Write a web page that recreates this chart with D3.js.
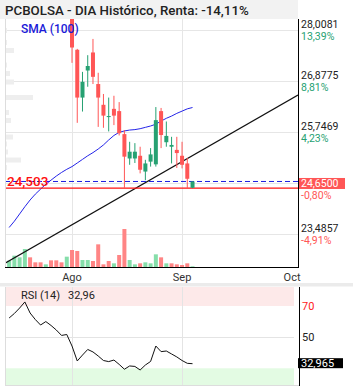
<!DOCTYPE html>
<html>
<head>
<meta charset="utf-8">
<script src="https://cdn.jsdelivr.net/npm/d3@7"></script>
<style>
  body { margin: 0; background: #fff; }
  svg { display: block; font-family: Roboto, "Noto Sans", sans-serif; }
</style>
</head>
<body>
<div id="chart"></div>
<script>
// index 0 = first session of August, negatives = last sessions of July
const dayIndex = d3.range(-12, 24);
const candleIndex = d3.range(0, 24);

const opens  = [28.45, 27.57, 26.51, 27.11, 27.51, 26.81, 26.35, 26.08, 26.26, 26.21, 25.70, 25.16,
                25.16, 25.22, 24.87, 25.09, 25.03, 26.21, 25.52, 25.42, 25.35, 25.22, 25.05, 24.51];
const highs  = [28.60, 27.59, 27.08, 27.45, 27.81, 27.06, 26.59, 26.51, 26.55, 26.41, 25.79, 25.53,
                25.50, 25.42, 25.13, 25.39, 26.30, 26.28, 25.98, 25.64, 25.64, 25.53, 25.17, 24.65];
const lows   = [27.28, 25.95, 26.20, 26.75, 26.81, 25.86, 25.84, 25.76, 25.90, 25.67, 24.503, 25.02,
                25.06, 24.83, 24.68, 24.98, 24.98, 25.39, 25.42, 25.05, 24.95, 24.94, 24.503, 24.503];
const closes = [27.62, 26.51, 26.86, 27.21, 26.97, 26.51, 26.11, 26.10, 26.11, 25.72, 25.20, 25.31,
                25.31, 24.91, 25.05, 25.25, 26.01, 25.68, 25.66, 25.46, 25.28, 25.02, 24.71, 24.65];

// volume (miles) and direction for every session in dayIndex
const volumes = [19, 34, 29, 54, 29, 14, 14, 8, 20, 20, 14, 31,
                 51, 48, 21, 21, 18, 68, 8, 18, 11, 36, 114, 21,
                 8, 11, 14, 11, 38, 29, 11, 11, 8, 6, 11, 2];
const volUp = ["u","u","u","u","d","d","d","u","d","d","d","u",
               "d","d","u","u","d","d","d","d","u","d","d","u",
               "u","d","u","u","u","d","u","d","d","d","d","u"];

const sma100 = [23.63, 23.77, 23.93, 24.09, 24.24, 24.37, 24.48, 24.59, 24.68, 24.77, 24.85, 24.92,
                24.98, 25.06, 25.14, 25.22, 25.29, 25.37, 25.46, 25.57, 25.67, 25.74, 25.77, 25.79,
                25.80, 25.82, 25.85, 25.88, 25.92, 25.99, 26.05, 26.10, 26.16, 26.21, 26.26, 26.29];

const rsi14 = [62.3, 65.2, 68.7, 72.6, 65.5, 61.3, 57.8, 60.0, 57.5, 54.6, 51.1, 51.7,
               44.3, 34.7, 38.5, 42.1, 40.5, 37.9, 35.0, 34.3, 35.3, 32.5, 29.4, 31.5,
               31.2, 28.9, 32.1, 34.4, 44.3, 40.7, 41.1, 39.2, 37.3, 35.0, 33.2, 32.96];

// support trend line, two anchors (index, price)
const trendLine = [[-12.79, 22.836], [43.13, 26.567]];

// faint volume-at-price profile on the left
const profilePrices = [27.997, 27.731, 27.554, 27.232, 27.044, 26.855, 26.512, 26.179, 26.002, 25.636, 25.481, 25.304, 25.126, 24.960];
const profileVols   = [2, 2, 9, 2, 5, 9, 28, 4, 6, 8, 2, 3, 16, 2];

const priceTicks = [28.0081, 26.8775, 25.7469, 24.6163, 23.4857];
const pctLabels  = ["13,39%", "8,81%", "4,23%", "", "-4,91%"];
const monthTicks = [0, 21, 42];
const monthLabels = ["Ago", "Sep", "Oct"];

const lastPrice = 24.65;
const lastPct = "-0,80%";
const supportLevel = 24.503;
const lastRsi = 32.965;

const RED = "#ff5656", GREEN = "#26a172";
const fmt4 = v => d3.format(".4f")(v).replace(".", ",");

const svg = d3.select("#chart").append("svg")
    .attr("width", 353)
    .attr("height", 390);

const x = d3.scaleLinear().domain([-12.79, 43.13]).range([5, 298]);
const y = d3.scaleLinear().domain([23.4857, 28.0081]).range([234, 30]);
const yVol = d3.scaleLinear().domain([0, 120]).range([267, 227]);
const yRsi = d3.scaleLinear().domain([30, 70]).range([368.3, 306]);
const xProf = d3.scaleLinear().domain([0, 28]).range([5, 33]);

svg.append("defs").append("clipPath").attr("id", "clipMain")
    .append("rect").attr("x", 5).attr("y", 19).attr("width", 293).attr("height", 248);
svg.select("defs").append("clipPath").attr("id", "clipRsi")
    .append("rect").attr("x", 5).attr("y", 287).attr("width", 294).attr("height", 98);

// title bar
svg.append("rect").attr("x", 0).attr("y", 0).attr("width", 298).attr("height", 19).attr("fill", "#f2f2f2");

const main = svg.append("g").attr("clip-path", "url(#clipMain)");

// grid
main.selectAll(".hgrid").data(priceTicks).enter().append("line")
    .attr("x1", 5).attr("x2", 298)
    .attr("y1", d => Math.round(y(d)) + 0.5).attr("y2", d => Math.round(y(d)) + 0.5)
    .attr("stroke", "#e6e6e6");
main.selectAll(".vgrid").data(monthTicks.slice(0, 2)).enter().append("line")
    .attr("x1", d => Math.round(x(d)) + 0.5).attr("x2", d => Math.round(x(d)) + 0.5)
    .attr("y1", 19).attr("y2", 267)
    .attr("stroke", "#e6e6e6");

// volume profile
main.selectAll(".prof").data(profilePrices).enter().append("rect")
    .attr("x", 5)
    .attr("y", d => y(d) - 2.5)
    .attr("width", (d, i) => xProf(profileVols[i]) - 5)
    .attr("height", 5)
    .attr("fill", "#eeeeee");

// volume bars
main.selectAll(".vol").data(dayIndex).enter().append("rect")
    .attr("x", d => x(d) - 2)
    .attr("y", (d, i) => yVol(volumes[i]))
    .attr("width", 4)
    .attr("height", (d, i) => 267 - yVol(volumes[i]))
    .attr("fill", (d, i) => volUp[i] === "u" ? "#86deaa" : "#ff8585");

// SMA 100
main.append("path")
    .datum(dayIndex)
    .attr("fill", "none")
    .attr("stroke", "#2424e8")
    .attr("stroke-width", 1)
    .attr("d", d3.line().x(d => x(d)).y((d, i) => y(sma100[i])));

// trend line
main.append("path")
    .datum(trendLine)
    .attr("fill", "none")
    .attr("stroke", "#111")
    .attr("stroke-width", 1.2)
    .attr("d", d3.line().x(d => x(d[0])).y(d => y(d[1])));

// last price dashed + support line
main.append("line")
    .attr("x1", 5).attr("x2", 298)
    .attr("y1", y(lastPrice)).attr("y2", y(lastPrice))
    .attr("stroke", "#1c1ce0").attr("stroke-dasharray", "5,3");
main.append("line")
    .attr("x1", 5).attr("x2", 298)
    .attr("y1", y(supportLevel)).attr("y2", y(supportLevel))
    .attr("stroke", "#ff1010").attr("stroke-width", 1.2);

// candles
const candles = main.selectAll(".candle").data(candleIndex).enter().append("g");
candles.append("line")
    .attr("x1", d => x(d)).attr("x2", d => x(d))
    .attr("y1", (d, i) => y(highs[i])).attr("y2", (d, i) => y(lows[i]))
    .attr("stroke", (d, i) => closes[i] >= opens[i] ? GREEN : RED)
    .attr("stroke-width", 1);
candles.append("rect")
    .attr("x", d => x(d) - 2)
    .attr("y", (d, i) => y(Math.max(opens[i], closes[i])))
    .attr("width", 4)
    .attr("height", (d, i) => Math.max(1, Math.abs(y(opens[i]) - y(closes[i]))))
    .attr("fill", (d, i) => closes[i] >= opens[i] ? GREEN : RED);

// axes lines
svg.append("line").attr("x1", 5.5).attr("x2", 5.5).attr("y1", 19).attr("y2", 267).attr("stroke", "#ddd");
svg.append("line").attr("x1", 5).attr("x2", 299).attr("y1", 267.5).attr("y2", 267.5).attr("stroke", "#000");
svg.append("line").attr("x1", 298.5).attr("x2", 298.5).attr("y1", 19).attr("y2", 268).attr("stroke", "#000");

// texts
svg.append("text").attr("x", 5).attr("y", 15)
    .attr("font-size", 13.3).attr("font-weight", 500).attr("fill", "#222")
    .text("PCBOLSA - DIA Histórico, Renta: -14,11%");
svg.append("text").attr("x", 21).attr("y", 33)
    .attr("font-size", 12).attr("font-weight", 500).attr("fill", "#1a1ad8")
    .text("SMA (100)");
svg.append("text").attr("x", 7).attr("y", y(supportLevel) - 2)
    .attr("font-size", 13.5).attr("font-weight", 500).attr("fill", "#ff1010")
    .text(fmt4(supportLevel).slice(0, 6));

// right price axis
const axisTicks = priceTicks.filter((d, i) => pctLabels[i] !== "");
svg.selectAll(".plab").data(axisTicks).enter().append("text")
    .attr("x", 301).attr("y", d => y(d) - 2)
    .attr("font-size", 10.5).attr("fill", "#222")
    .text(d => fmt4(d));
svg.selectAll(".pct").data(axisTicks).enter().append("text")
    .attr("x", 301).attr("y", d => y(d) + 10)
    .attr("font-size", 10.5)
    .attr("fill", d => pctLabels[priceTicks.indexOf(d)][0] === "-" ? RED : GREEN)
    .text(d => pctLabels[priceTicks.indexOf(d)]);

svg.append("rect").attr("x", 299).attr("y", y(lastPrice) - 3.5).attr("width", 46).attr("height", 11).attr("fill", RED);
svg.append("text").attr("x", 301).attr("y", y(lastPrice) + 5.5)
    .attr("font-size", 10.5).attr("fill", "#fff").text(fmt4(lastPrice));
svg.append("text").attr("x", 301).attr("y", y(lastPrice) + 17.5)
    .attr("font-size", 10.5).attr("fill", RED).text(lastPct);

// month labels
svg.selectAll(".mlab").data(monthTicks).enter().append("text")
    .attr("x", d => x(d)).attr("y", 281)
    .attr("text-anchor", "middle").attr("font-size", 11).attr("fill", "#333")
    .text((d, i) => monthLabels[i]);

// separator
svg.append("rect").attr("x", 0).attr("y", 283).attr("width", 353).attr("height", 3.5).attr("fill", "#ebebeb");

// RSI panel
const rsiG = svg.append("g");
rsiG.append("rect").attr("x", 5).attr("y", 287).attr("width", 289).attr("height", yRsi(70) - 287).attr("fill", "#fde9e9");
rsiG.append("rect").attr("x", 5).attr("y", yRsi(30)).attr("width", 289).attr("height", 385 - yRsi(30)).attr("fill", "#e3fbe3");
rsiG.append("line").attr("x1", 5).attr("x2", 294).attr("y1", Math.round(yRsi(50)) + 0.5).attr("y2", Math.round(yRsi(50)) + 0.5).attr("stroke", "#e4e4e4");
rsiG.selectAll(".rv").data(monthTicks.slice(0, 2)).enter().append("line")
    .attr("x1", d => Math.round(x(d)) + 0.5).attr("x2", d => Math.round(x(d)) + 0.5)
    .attr("y1", 287).attr("y2", 385).attr("stroke", "#e4e4e4");
rsiG.append("line").attr("x1", 5.5).attr("x2", 5.5).attr("y1", 287).attr("y2", 385).attr("stroke", "#ddd");
rsiG.append("line").attr("x1", 5).attr("x2", 299).attr("y1", 385.5).attr("y2", 385.5).attr("stroke", "#ddd");
rsiG.append("line").attr("x1", 299.5).attr("x2", 299.5).attr("y1", 287).attr("y2", 386).attr("stroke", "#000");

rsiG.append("path")
    .datum(dayIndex)
    .attr("clip-path", "url(#clipRsi)")
    .attr("fill", "none")
    .attr("stroke", "#111")
    .attr("stroke-width", 1)
    .attr("d", d3.line().x(d => x(d)).y((d, i) => yRsi(rsi14[i])));

rsiG.append("text").attr("x", 21).attr("y", 299).attr("font-size", 11).attr("fill", "#222").text("RSI (14)");
rsiG.append("text").attr("x", 68).attr("y", 299).attr("font-size", 11).attr("fill", "#222")
    .text(d3.format(".2f")(lastRsi - 0.005).replace(".", ","));
rsiG.append("text").attr("x", 302).attr("y", yRsi(70) + 4).attr("font-size", 11).attr("fill", "#ff1a1a").text("70");
rsiG.append("text").attr("x", 302).attr("y", yRsi(50) + 4).attr("font-size", 11).attr("fill", "#222").text("50");
rsiG.append("rect").attr("x", 298).attr("y", yRsi(lastRsi) - 5.5).attr("width", 45).attr("height", 10).attr("fill", "#000");
rsiG.append("text").attr("x", 301).attr("y", yRsi(lastRsi) + 3.5).attr("font-size", 11).attr("fill", "#fff")
    .text(d3.format(".3f")(lastRsi).replace(".", ","));
</script>
</body>
</html>
